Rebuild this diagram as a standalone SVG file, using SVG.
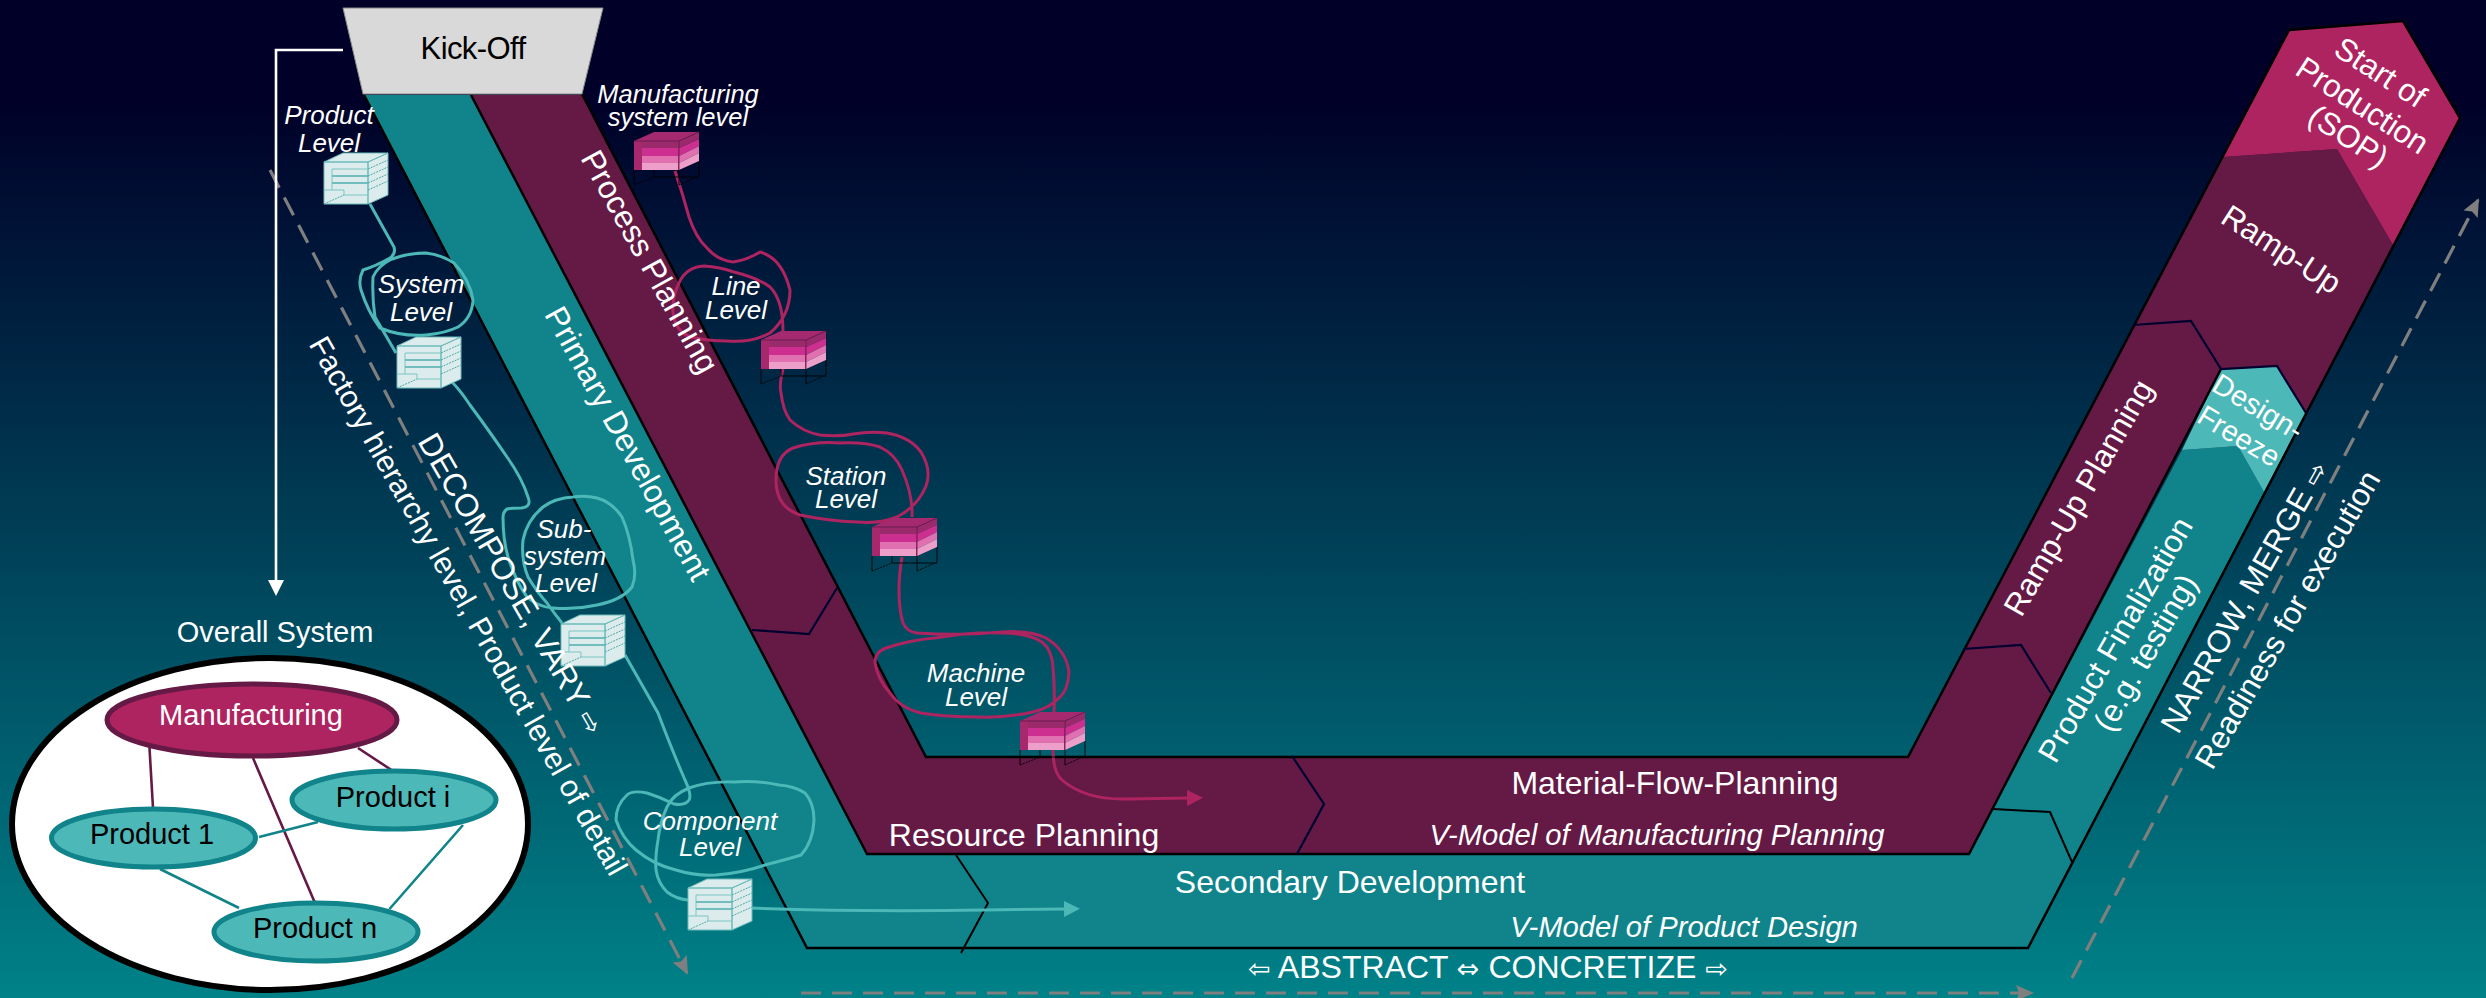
<svg xmlns="http://www.w3.org/2000/svg" xmlns:xlink="http://www.w3.org/1999/xlink" width="2486" height="998" viewBox="0 0 2486 998">
<style>
text{font-family:"Liberation Sans","DejaVu Sans",sans-serif;fill:#fff;text-anchor:middle}
.k{fill:#000}
.it{font-style:italic;font-size:26px}
.b{font-size:32px}
.r{font-size:31.500px}
.p{font-size:29px}
.ar{font-family:"DejaVu Sans",sans-serif;font-size:27px}
.edge{fill:none;stroke:#000;stroke-width:2.5}
.chev{fill:none;stroke:#00002e;stroke-width:2.2}
.dash{fill:none;stroke:#7f7f7f;stroke-width:3.2;stroke-dasharray:20 11}
.wt{fill:none;stroke:#4db8b8;stroke-width:3}
.wm{fill:none;stroke:#ae2460;stroke-width:3}
.lm{stroke:#651a46;stroke-width:2.6}
.lt{stroke:#10848a;stroke-width:2.6}
.pe{fill:#4db8b8;stroke:#10848a;stroke-width:5}
</style>
<defs>
<linearGradient id="bg" x1="0" y1="0" x2="0" y2="1">
<stop offset="0.1" stop-color="#000028"/><stop offset="1" stop-color="#008288"/>
</linearGradient>
<marker id="ag" markerUnits="userSpaceOnUse" markerWidth="20" markerHeight="20" refX="16" refY="8" orient="auto"><path d="M0 0L18 8L0 16L3 8Z" fill="#7f7f7f"/></marker>
<marker id="aw" markerUnits="userSpaceOnUse" markerWidth="20" markerHeight="20" refX="3" refY="8" orient="auto"><path d="M0 0L16 8L0 16Z" fill="#fff"/></marker>
<marker id="am" markerUnits="userSpaceOnUse" markerWidth="20" markerHeight="20" refX="2" refY="8" orient="auto"><path d="M0 0L16 8L0 16Z" fill="#ae2460"/></marker>
<marker id="at" markerUnits="userSpaceOnUse" markerWidth="20" markerHeight="20" refX="2" refY="8" orient="auto"><path d="M0 0L16 8L0 16Z" fill="#4db8b8"/></marker>
<g id="cubeT">
<path d="M0 9L19 0H64L44 9Z M44 9L64 0V42L44 51Z M0 9H44V51H0Z" fill="#dcecec" stroke="#6dbbbb" stroke-width="1"/>
<path d="M8 16H44M8 23H44M8 30H44M0 37H20V42H44M8 16V37" fill="none" stroke="#7cc4c4" stroke-width="1"/>
<path d="M8 23H44M8 30H44" fill="none" stroke="#5fb5b5" stroke-width="1.4"/>
<path d="M44 16L64 7M44 23L64 14M44 30L64 21M44 37L64 28M0 51L20 42" fill="none" stroke="#4fa9a9" stroke-width="1" stroke-dasharray="2 1"/>
</g>
<g id="cubeM">
<path d="M0 38V53M45 38V53M65 29V44M20 38V45H65" fill="none" stroke="#000" stroke-width="0.9"/>
<path d="M0 53L20 45M45 53L65 44" fill="none" stroke="#000" stroke-width="0.9" stroke-dasharray="2 1"/>
<path d="M0 9L20 0H65L45 9Z" fill="#a5296f"/>
<path d="M0 9H45V38H0Z" fill="#a8286e"/>
<rect x="8" y="9" width="36" height="7" fill="#9a2a6c"/>
<rect x="8" y="16" width="36" height="8" fill="#cc2f8f"/>
<rect x="8" y="24" width="36" height="7" fill="#e070b0"/>
<rect x="8" y="31" width="36" height="7" fill="#ee9fc9"/>
<path d="M45 9L65 0V7L45 16Z" fill="#9a2a6c"/>
<path d="M45 16L65 7V14L45 24Z" fill="#cc2f8f"/>
<path d="M45 24L65 14V21L45 31Z" fill="#e070b0"/>
<path d="M45 31L65 21V29L45 38Z" fill="#ee9fc9"/>
<path d="M45 9V38M45 9L65 0M0 9H45" fill="none" stroke="#5e1a46" stroke-width="0.8"/>
</g>
</defs>
<rect id="background" width="2486" height="998" fill="url(#bg)"/>

<g id="bands">
<path id="teal-band" d="M364 95H471L867 854H1969L2182 450L2238 446L2264 492L2028 948H807Z" fill="#10848a"/>
<path id="design-freeze-band" d="M2221 369L2277 366L2306 413L2264 492L2238 446L2182 450Z" fill="#4db8b8"/>
<path id="maroon-band" d="M471 95H582L926 756H1908L2223 157L2337 149L2393 245L2306 413L2277 366L2221 369L1969 854H867Z" fill="#651a46"/>
<path id="sop-band" d="M2289 30L2403 21L2460 118L2393 245L2337 149L2223 157Z" fill="#ae2460"/>
<path class="edge" d="M364 95L807 948H2028L2460 118L2403 21L2289 30L1908 757H926L582 94"/>
<path class="edge" d="M471 95L867 854H1969L2221 369"/>
<path class="chev" d="M752 630L809 634L837 588"/>
<path class="chev" d="M1292 756L1324 804L1297 854"/>
<path class="chev" d="M2133 325L2191 321L2221 369L2277 366L2306 413"/>
<path class="chev" d="M1963 649L2021 645L2051 693"/>
<path class="edge" style="stroke-width:2" d="M956 855L988 903L961 953"/>
<path class="edge" style="stroke-width:2" d="M1993 809L2050 812L2072 862"/>
</g>

<g id="overall-system">
<text x="275" y="642" class="p">Overall System</text>
<ellipse cx="270" cy="824" rx="258" ry="166" fill="#fff" stroke="#000" stroke-width="6"/>
</g>

<g id="connectors">
<path class="dash" d="M270 170L687 973" marker-end="url(#ag)"/>
<path class="dash" d="M801 993H2032" marker-end="url(#ag)"/>
<path class="dash" d="M2072 978L2478 200" marker-end="url(#ag)"/>
<path d="M343 50H276V583" fill="none" stroke="#fff" stroke-width="2.6" marker-end="url(#aw)"/>
<path class="wt" d="M370 204Q385 231 394 247Q396 254 390 258Q376 266 363 270Q358 280 361 290Q368 312 380 328Q402 337 426 335Q446 333 458 327Q472 318 473 300Q470 280 454 263Q442 255 426 253Q406 253 390 260Q378 266 373 277Q372 298 375 317Q386 336 396 353"/>
<path class="wt" d="M452 382Q460 390 470 405Q490 432 507 457Q522 478 528 497Q532 507 521 508Q510 508 507 509Q503 512 503 517Q503 540 508 557Q516 582 527 597Q538 607 553 608Q575 610 597 605Q622 600 632 587Q637 575 633 560Q630 535 622 517Q612 502 597 498Q585 495 573 497Q555 498 543 507Q527 520 523 540Q521 560 528 577Q537 592 547 603Q554 613 562 623"/>
<path class="wt" d="M625 655Q642 685 658 713Q672 750 685 780Q692 795 689 800Q685 806 674 804Q660 797 647 793Q632 790 627 795Q616 805 616 820Q622 838 636 850Q654 865 676 870Q695 876 716 875Q742 873 765 865Q792 858 801 855Q813 842 814 820Q814 803 805 793Q794 786 779 785Q755 780 734 782Q708 781 689 788Q672 795 667 807Q660 822 658 840Q655 858 656 870Q658 883 667 892Q676 899 688 900"/>
<path class="wt" d="M750 908Q860 912 984 910L1066 909" marker-end="url(#at)"/>
<path class="wm" d="M675 171Q683 195 689 217Q696 238 707 248Q717 260 733 262Q747 260 760 252Q782 258 790 290Q790 316 770 333Q752 343 727 341Q708 341 691 337Q675 332 673 312Q672 297 679 283Q686 267 704 266Q720 267 734 272Q758 278 770 287Q783 300 783 331"/>
<path class="wm" d="M783 369Q779 385 781 393Q783 410 790 420Q803 432 820 435Q840 437 853 434Q870 431 887 433Q910 437 921 452Q932 470 926 486Q918 506 897 517Q880 524 857 522Q828 521 800 515Q776 507 776 480Q776 455 793 448Q815 441 840 443Q865 442 880 447Q895 454 902 470Q913 495 912 517"/>
<path class="wm" d="M902 557Q899 575 899 590Q899 610 903 623Q907 632 917 633Q960 636 1002 632Q1030 630 1046 638Q1066 650 1069 672Q1068 690 1060 697Q1050 708 1033 712Q1005 718 979 717Q945 717 921 713Q900 708 890 693Q878 680 875 663Q875 652 886 648Q910 640 935 638Q970 632 1002 633Q1028 633 1042 642Q1052 650 1053 667Q1055 690 1054 712"/>
<path class="wm" d="M1053 750Q1053 772 1062 780Q1085 800 1127 799L1189 798" marker-end="url(#am)"/>
<path class="lm" d="M149.500 748L153 808M253 758L315 903M358 748L393 771"/>
<path class="lt" d="M259 837L318 822M160 869L239 908M463 825L389.500 909"/>
</g>

<g id="kick-off">
<path d="M343 8H603L582 94H363Z" fill="#d9d9d9" stroke="#8a8a8a" stroke-width="1"/>
<text class="k" x="473" y="59" style="font-size:31px;letter-spacing:-0.6px">Kick-Off</text>
</g>

<g id="cube-product"><use href="#cubeT" xlink:href="#cubeT" x="324" y="153"/><text class="it" x="329" y="124">Product</text><text class="it" x="329" y="152">Level</text></g>
<g id="cube-system"><use href="#cubeT" xlink:href="#cubeT" x="397" y="337"/><text class="it" x="421" y="293">System</text><text class="it" x="421" y="321">Level</text></g>
<g id="cube-subsystem"><use href="#cubeT" xlink:href="#cubeT" x="561" y="615"/><text class="it" x="564" y="538">Sub-</text><text class="it" x="565" y="565">system</text><text class="it" x="566" y="592">Level</text></g>
<g id="cube-component"><use href="#cubeT" xlink:href="#cubeT" x="688" y="879"/><text class="it" x="710" y="830">Component</text><text class="it" x="710" y="856">Level</text></g>
<g id="cube-manufacturing"><use href="#cubeM" xlink:href="#cubeM" x="634" y="132"/><text class="it" x="678" y="103" style="font-size:25.500px">Manufacturing</text><text class="it" x="678" y="126" style="font-size:25.500px">system level</text></g>
<g id="cube-line"><use href="#cubeM" xlink:href="#cubeM" x="761" y="331"/><text class="it" x="736" y="295">Line</text><text class="it" x="736" y="319">Level</text></g>
<g id="cube-station"><use href="#cubeM" xlink:href="#cubeM" x="872" y="518"/><text class="it" x="846" y="485">Station</text><text class="it" x="846" y="508">Level</text></g>
<g id="cube-machine"><use href="#cubeM" xlink:href="#cubeM" x="1020" y="712"/><text class="it" x="976" y="682">Machine</text><text class="it" x="976" y="706">Level</text></g>

<g id="node-manufacturing"><ellipse cx="252" cy="720" rx="145" ry="36" fill="#ae2460" stroke="#651a46" stroke-width="5"/><text class="p" x="251" y="725">Manufacturing</text></g>
<g id="node-product-i"><ellipse class="pe" cx="394" cy="800" rx="102" ry="29"/><text class="k p" x="393" y="807">Product i</text></g>
<g id="node-product-1"><ellipse class="pe" cx="153.500" cy="838" rx="102" ry="29"/><text class="k p" x="152" y="844">Product 1</text></g>
<g id="node-product-n"><ellipse class="pe" cx="316" cy="932" rx="102" ry="29"/><text class="k p" x="315" y="938">Product n</text></g>

<g id="labels">
<text class="b" transform="translate(649 262) rotate(61)" y="10">Process Planning</text>
<text class="b" transform="translate(627 444) rotate(61)" y="10">Primary Development</text>
<text class="b" transform="translate(511 584) rotate(60)" y="10">DECOMPOSE, VARY <tspan class="ar">⇨</tspan></text>
<text transform="translate(468 606) rotate(60.500)" y="10" style="font-size:30.400px">Factory hierarchy level, Product level of detail</text>
<text class="b" x="1024" y="846">Resource Planning</text>
<text class="b" x="1675" y="794">Material-Flow-Planning</text>
<text x="1657" y="845" style="font-size:29.200px;font-style:italic">V-Model of Manufacturing Planning</text>
<text class="b" x="1350" y="893">Secondary Development</text>
<text x="1684" y="937" style="font-size:29.200px;font-style:italic">V-Model of Product Design</text>
<text class="b" x="1488" y="978"><tspan class="ar">⇦</tspan> ABSTRACT <tspan class="ar">⇔</tspan> CONCRETIZE <tspan class="ar">⇨</tspan></text>
<text class="r" transform="translate(2079 498) rotate(-60)" y="10">Ramp-Up Planning</text>
<text class="r" transform="translate(2116 640) rotate(-60)" y="10">Product Finalization</text>
<text class="r" transform="translate(2146 653) rotate(-60)" y="10">(e.g. testing)</text>
<text class="r" transform="translate(2245 597) rotate(-60.500)" y="10">NARROW, MERGE <tspan class="ar">⇨</tspan></text>
<text class="r" transform="translate(2288 620) rotate(-60)" y="10">Readiness for execution</text>
<text class="r" transform="translate(2281 250) rotate(33)" y="10">Ramp-Up</text>
<text class="r" transform="translate(2380 73) rotate(33)" y="10">Start of</text>
<text class="r" transform="translate(2362 106) rotate(33)" y="10">Production</text>
<text class="r" transform="translate(2348 137) rotate(33)" y="10">(SOP)</text>
<text transform="translate(2258 407) rotate(31)" y="10" style="font-size:29px">Design-</text>
<text transform="translate(2239 436) rotate(31)" y="10" style="font-size:29px">Freeze</text>
</g>
</svg>
